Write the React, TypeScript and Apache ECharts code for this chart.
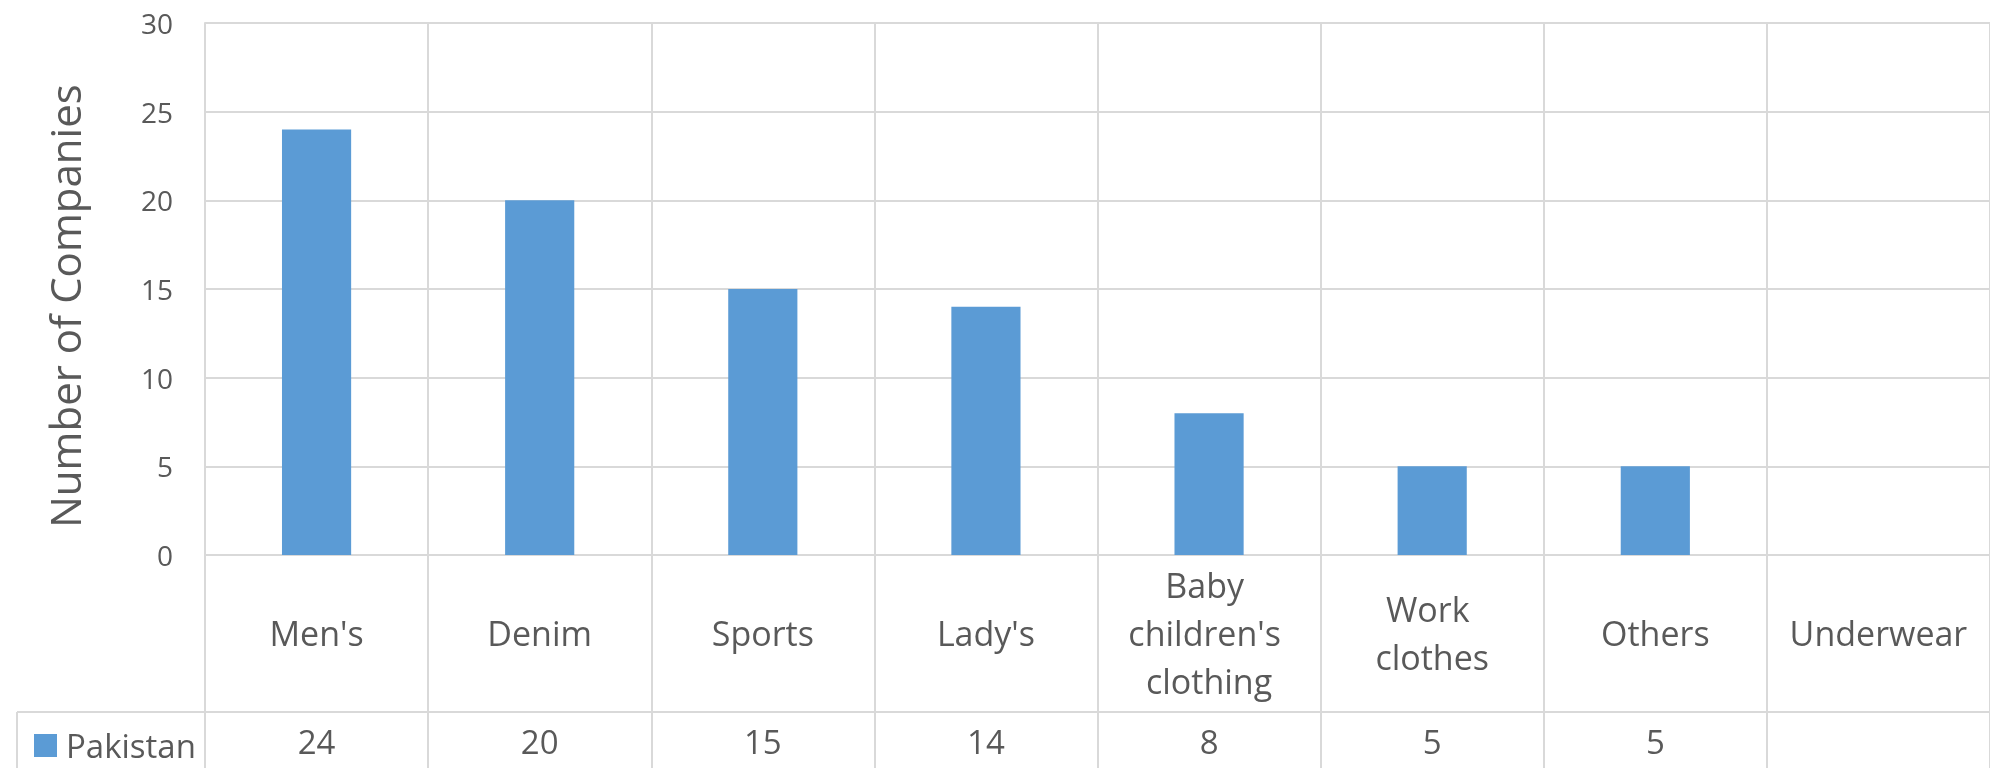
import React, { useEffect, useRef } from "react";
import * as echarts from "echarts";

const categories = ["Men's", "Denim", "Sports", "Lady's", "Baby children's clothing", "Work clothes", "Others", "Underwear"];
const seriesName = "Pakistan";
const values: (number | null)[] = [24, 20, 15, 14, 8, 5, 5, null];
const yTicks = { min: 0, max: 30, interval: 5 };

const TEXT = "#595959";
const LINE = "#d9d9d9";
const FONT = "'Open Sans', 'Noto Sans', sans-serif";

export default function App() {
  const ref = useRef<HTMLDivElement>(null);
  useEffect(() => {
    if (!ref.current) return;
    const chart = echarts.init(ref.current, undefined, { renderer: "svg" });
    chart.setOption({
      animation: false,
      textStyle: { fontFamily: FONT },
      grid: { left: 205, right: 0, top: 23, bottom: 213, containLabel: false },
      legend: {
        show: true,
        left: 29,
        top: 724,
        icon: "rect",
        itemWidth: 23,
        itemHeight: 23,
        data: [seriesName],
        textStyle: { fontSize: 33, color: TEXT, fontFamily: FONT, lineHeight: 33, padding: [0, 0, 0, 4] },
      },
      xAxis: [
        {
          type: "category",
          data: categories,
          axisLine: { show: true, lineStyle: { color: LINE, width: 2 } },
          axisTick: { show: true, length: 213, lineStyle: { color: LINE, width: 2 } },
          splitLine: { show: true, lineStyle: { color: LINE, width: 2 } },
          axisLabel: {
            interval: 0,
            margin: 78,
            verticalAlign: "middle",
            fontSize: 34,
            lineHeight: 48,
            color: TEXT,
            fontFamily: FONT,
            width: 200,
            overflow: "break",
          },
        },
        {
          type: "category",
          data: categories,
          position: "bottom",
          axisLine: { show: false },
          axisTick: { show: false },
          splitLine: { show: false },
          axisLabel: {
            interval: 0,
            margin: 186,
            verticalAlign: "middle",
            fontSize: 33,
            color: TEXT,
            fontFamily: FONT,
            formatter: (_v: string, i: number) => (values[i] == null ? "" : String(values[i])),
          },
        },
      ],
      yAxis: {
        type: "value",
        min: yTicks.min,
        max: yTicks.max,
        interval: yTicks.interval,
        axisLine: { show: true, lineStyle: { color: LINE, width: 2 } },
        axisTick: { show: false },
        splitLine: { show: true, lineStyle: { color: LINE, width: 2 } },
        axisLabel: { margin: 32, fontSize: 28, color: TEXT, fontFamily: FONT },
      },
      series: [
        {
          name: seriesName,
          type: "bar",
          xAxisIndex: 0,
          data: values,
          barWidth: "31%",
          itemStyle: { color: "#5b9bd5" },
        },
      ],
      graphic: [
        {
          type: "line",
          shape: { x1: 17, y1: 712, x2: 1990, y2: 712 },
          style: { stroke: LINE, lineWidth: 2 },
        },
        {
          type: "line",
          shape: { x1: 17, y1: 712, x2: 17, y2: 768 },
          style: { stroke: LINE, lineWidth: 2 },
        },
        {
          type: "text",
          x: 64,
          y: 306,
          rotation: Math.PI / 2,
          style: {
            text: "Number of Companies",
            align: "center",
            verticalAlign: "middle",
            fontSize: 42,
            fill: TEXT,
            fontFamily: FONT,
          },
        },
      ],
    });
    return () => chart.dispose();
  }, []);
  return <div ref={ref} style={{ position: "fixed", left: 0, top: 0, width: 1990, height: 768 }} />;
}
